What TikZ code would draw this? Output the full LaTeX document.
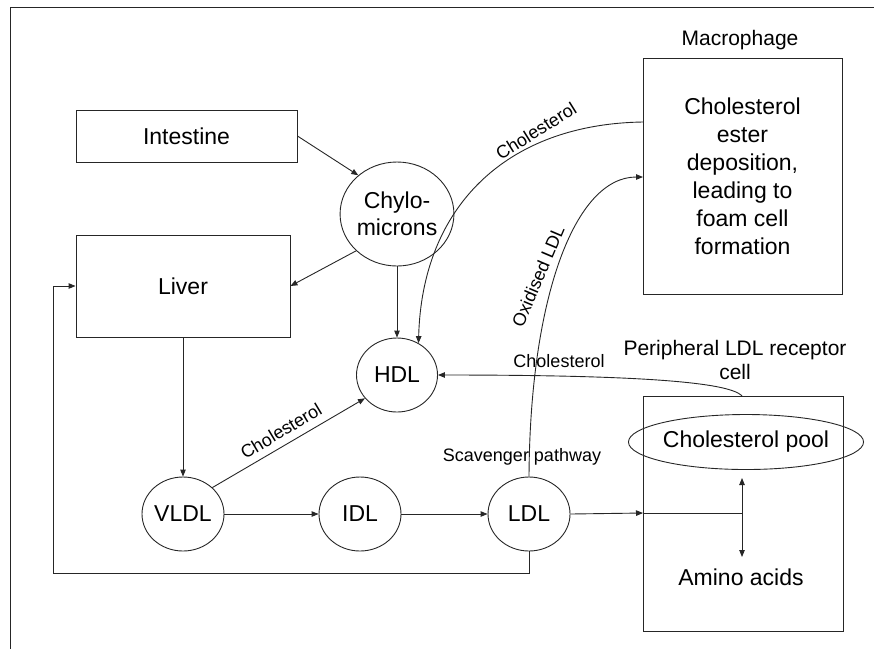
\documentclass[tikz,border=0pt]{standalone}
\usepackage{fontspec}
\setmainfont{Liberation Sans}
\usetikzlibrary{shapes.geometric,arrows.meta}
\begin{document}
\begin{tikzpicture}[x=1pt,y=-1pt,
  line width=0.9pt, draw=black!85,
  box/.style={draw, rectangle, inner sep=0pt, align=center, font=\fontsize{23}{28}\selectfont},
  oval/.style={draw, ellipse, inner sep=0pt, align=center, font=\fontsize{23}{27}\selectfont},
  lab/.style={font=\fontsize{18}{22}\selectfont, inner sep=0pt},
  biglab/.style={font=\fontsize{21}{24}\selectfont, inner sep=0pt, align=center},
  arr/.style={-{Triangle[length=7pt,width=5.5pt]}},
  darr/.style={{Triangle[length=7pt,width=5.5pt]}-{Triangle[length=7pt,width=5.5pt]}}
]
\useasboundingbox (0,0) rectangle (874,649);
% frame
\draw (874,7) -- (10,7) -- (10,649);

% nodes
\node[box, minimum width=221pt, minimum height=52pt] (intestine) at (186.5,136) {Intestine};
\node[box, minimum width=214pt, minimum height=102pt] (liver) at (183,286) {Liver};
\node[oval, minimum width=110pt, minimum height=104pt] (chylo) at (397,214) {Chylo-\\microns};
\node[oval, minimum width=81pt, minimum height=74pt] (hdl) at (397,375) {HDL};
\node[oval, minimum width=82pt, minimum height=74pt] (vldl) at (183,514) {VLDL};
\node[oval, minimum width=82pt, minimum height=74pt] (idl) at (360,514) {IDL};
\node[oval, minimum width=82pt, minimum height=74pt] (ldl) at (529,514) {LDL};
\node[box, minimum width=199pt, minimum height=236pt] (macro) at (742.5,176) {Cholesterol\\ester\\deposition,\\leading to\\foam cell\\formation};
\node[box, minimum width=200pt, minimum height=235pt] (periph) at (743,513.5) {};
\node[oval, minimum width=192pt, minimum height=55pt] (pool) at (746,442) {Cholesterol pool};
\node[font=\fontsize{23}{28}\selectfont, inner sep=0pt] (amino) at (741,577) {Amino acids};

% labels
\node[biglab] (macrolab) at (740,40) {Macrophage};
\node[biglab] (periphlab) at (735,360) {Peripheral LDL receptor\\cell};
\node[lab, rotate=31] (chol1) at (281,431) {Cholesterol};
\node[lab, rotate=32] (chol2) at (536,131) {Cholesterol};
\node[lab, rotate=67] (oxid) at (538,276) {Oxidised LDL};
\node[lab] (chol3) at (559,361) {Cholesterol};
\node[lab] (scav) at (522,457) {Scavenger pathway};

% coordinates
\coordinate (c1) at (53,573);
\coordinate (entry) at (643,513);
\coordinate (J) at (742,513);
\coordinate (vt) at (742,478);
\coordinate (vb) at (742,557);
\coordinate (m1) at (643,122);
\coordinate (m2) at (643,177);
\coordinate (ptop) at (742,396);

% connectors
\draw[arr] (intestine.east) -- (chylo.135);
\draw[arr] (chylo.222) -- (liver.east);
\draw[arr] (chylo.south) -- (hdl.north);
\draw[arr] (liver.south) -- (vldl.north);
\draw[arr] (vldl.42) -- (hdl.216);
\draw[arr] (vldl.east) -- (idl.west);
\draw[arr] (idl.east) -- (ldl.west);
\draw[arr] (ldl.south) |- (c1) |- (liver.west);
\draw[arr] (ldl.east) -- (entry);
\draw (entry) -- (J);
\draw[darr] (vt) -- (vb);
\draw[arr] (m1) .. controls (506,124) and (422,207) .. (hdl.56);
\draw[arr] (ldl.north) .. controls (530,297) and (575,177) .. (m2);
\draw[arr] (ptop) .. controls (728,380) and (610,375) .. (hdl.east);
\end{tikzpicture}
\end{document}
